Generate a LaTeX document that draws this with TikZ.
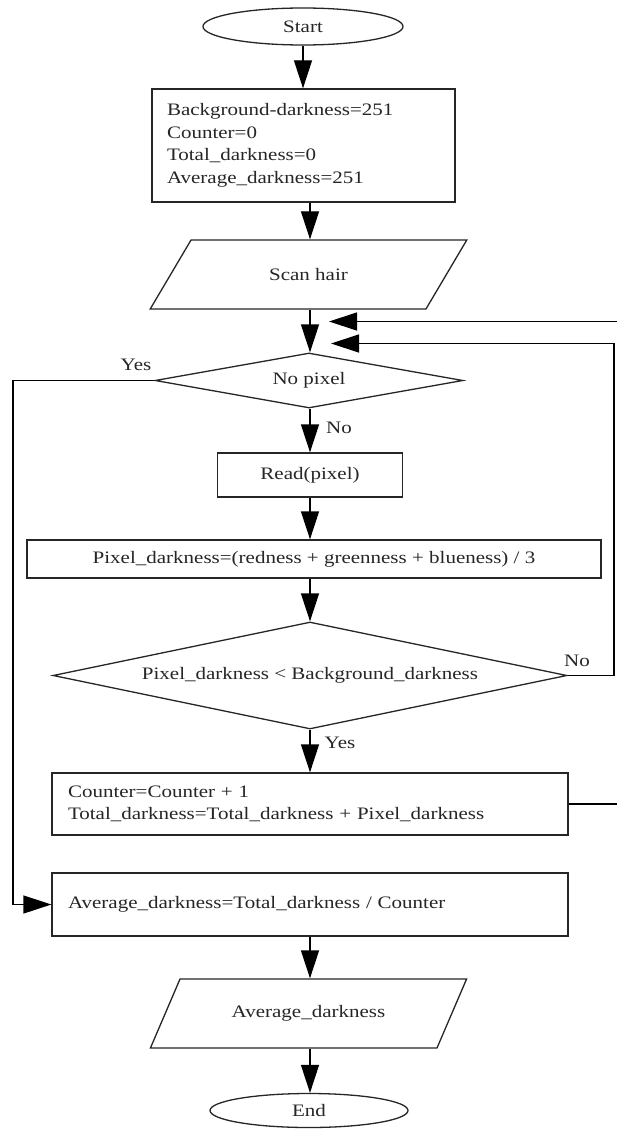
\documentclass[tikz,border=0pt]{standalone}
\usepackage{fontspec}
\setmainfont{Liberation Serif}[FakeStretch=1.2]
\usetikzlibrary{shapes.geometric,arrows.meta}
\definecolor{ink}{HTML}{262626}
\begin{document}
\begin{tikzpicture}[x=1pt,y=-1pt,
  every node/.style={font=\fontsize{17.5}{22.5}\selectfont, text=ink},
  shp/.style={draw=ink, line width=1.3pt, inner sep=0pt},
  term/.style={shp, ellipse},
  procbox/.style={shp, rectangle},
  decide/.style={shp, diamond, aspect=8},
  io/.style={shp, trapezium, trapezium left angle=42, trapezium right angle=138,
    trapezium stretches=true, minimum width=317pt, minimum height=69pt},
  arr/.style={draw=black, line width=1.3pt, -{Triangle[width=18pt,length=28pt]}},
  ln/.style={draw=black, line width=1.3pt},
  lbl/.style={inner sep=0pt}
]
\useasboundingbox[fill=white] (0,0) rectangle (617,1129);
\coordinate (spine) at (310,0);
\coordinate (loopR) at (614,0);
\coordinate (edgeR) at (617,0);
\coordinate (loopL) at (13,0);
\coordinate (j1) at (329,321.5);
\coordinate (j2) at (331,343.5);

\node[term, minimum width=200pt, minimum height=37pt] (start) at (303,26.5) {Start};
\node[procbox, minimum height=113pt, text width=273pt, inner xsep=15pt, align=left] (init) at (303.5,145.5)
  {Background-darkness=251\\Counter=0\\Total\_darkness=0\\Average\_darkness=251};
\node[io] (scan) at (308.5,274.5) {Scan hair};
\node[decide, minimum width=308pt, minimum height=55pt] (nopix) at (309,380.5) {No pixel};
\node[procbox, minimum width=185pt, minimum height=44pt] (read) at (310,475) {Read(pixel)};
\node[procbox, minimum width=574pt, minimum height=38pt] (pix) at (314,559)
  {Pixel\_darkness=(redness + greenness + blueness) / 3};
\node[decide, minimum width=514pt, minimum height=107pt] (cmp) at (310,675.5)
  {Pixel\_darkness < Background\_darkness};
\node[procbox, minimum height=62pt, text width=484pt, inner xsep=16pt, align=left] (upd) at (310,804)
  {Counter=Counter + 1\\Total\_darkness=Total\_darkness + Pixel\_darkness};
\node[procbox, minimum height=63pt, text width=484pt, inner xsep=16pt, align=left] (avg) at (310,904.5)
  {Average\_darkness=Total\_darkness / Counter};
\node[io] (out) at (308.5,1013.5) {Average\_darkness};
\node[term, minimum width=198pt, minimum height=34pt] (end) at (309,1110.5) {End};

\node[lbl] (yes1) at (136,365) {Yes};
\node[lbl] (no1) at (339,428) {No};
\node[lbl] (no2) at (577,661) {No};
\node[lbl] (yes2) at (340,743) {Yes};

\draw[arr] (start.south) -- (start.south |- init.north);
\draw[arr] (init.south -| spine) -- (scan.north -| spine);
\draw[arr] (scan.south -| spine) -- (nopix.north -| spine);
\draw[arr] (nopix.south -| spine) -- (read.north -| spine);
\draw[arr] (read.south -| spine) -- (pix.north -| spine);
\draw[arr] (pix.south -| spine) -- (cmp.north);
\draw[arr] (cmp.south) -- (upd.north);
\draw[arr] (avg.south -| spine) -- (out.north -| spine);
\draw[arr] (out.south -| spine) -- (end.north -| spine);

\draw[arr] (cmp.east) -- (cmp.east -| loopR) -- (j2 -| loopR) -- (j2);
\draw[ln] (upd.east) -- (upd.east -| edgeR);
\draw[arr] (j1 -| edgeR) -- (j1);
\draw[arr] (nopix.west) -- (nopix.west -| loopL) -- (avg.west -| loopL) -- (avg.west);
\end{tikzpicture}
\end{document}
